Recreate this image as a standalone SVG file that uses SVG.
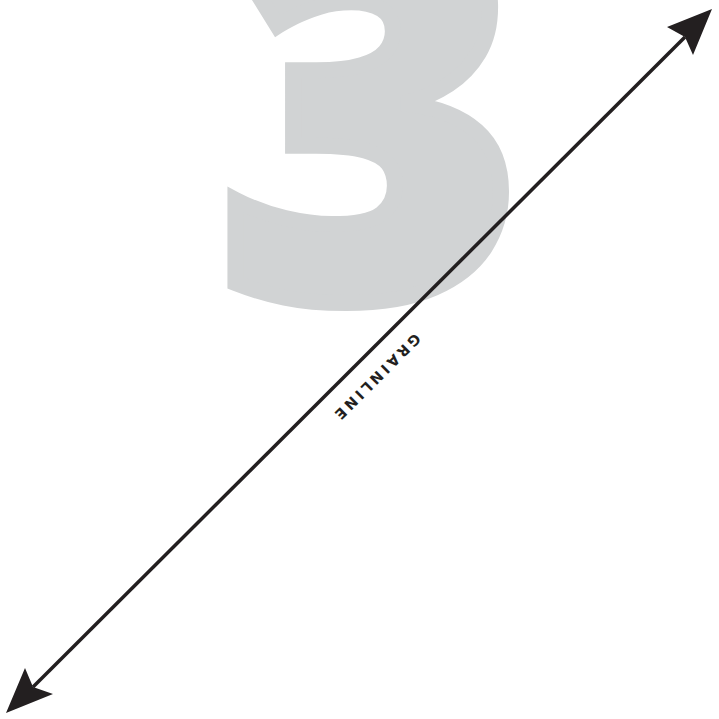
<svg xmlns="http://www.w3.org/2000/svg" width="719" height="719" viewBox="0 0 719 719">
<style>
.num{font-family:"Open Sans",Roboto,"Liberation Sans",sans-serif;font-weight:800;font-size:520px;fill:#d1d3d4;stroke:#d1d3d4;stroke-width:16;stroke-linejoin:miter}
.lbl{font-family:"DejaVu Sans","Liberation Sans",sans-serif;font-weight:bold;font-size:14.5px;letter-spacing:3.2px;fill:#231f20}
.grain{stroke:#231f20;stroke-width:3.5;fill:none}
.head{fill:#231f20}
</style>
<rect width="719" height="719" fill="#ffffff"/>
<g id="number">
<text class="num" x="370" y="298" text-anchor="middle">3</text>
</g>
<g id="connectors">
<line class="grain" x1="33" y1="687" x2="685" y2="37"/>
<path class="head" d="M712,9 L693,55 L685,37 L667,27 Z"/>
<path class="head" d="M6,713 L25,668 L33,687 L53,694 Z"/>
</g>
<g id="label">
<text class="lbl" x="373" y="374" text-anchor="middle" transform="rotate(135 373 374)">GRAINLINE</text>
</g>
</svg>
